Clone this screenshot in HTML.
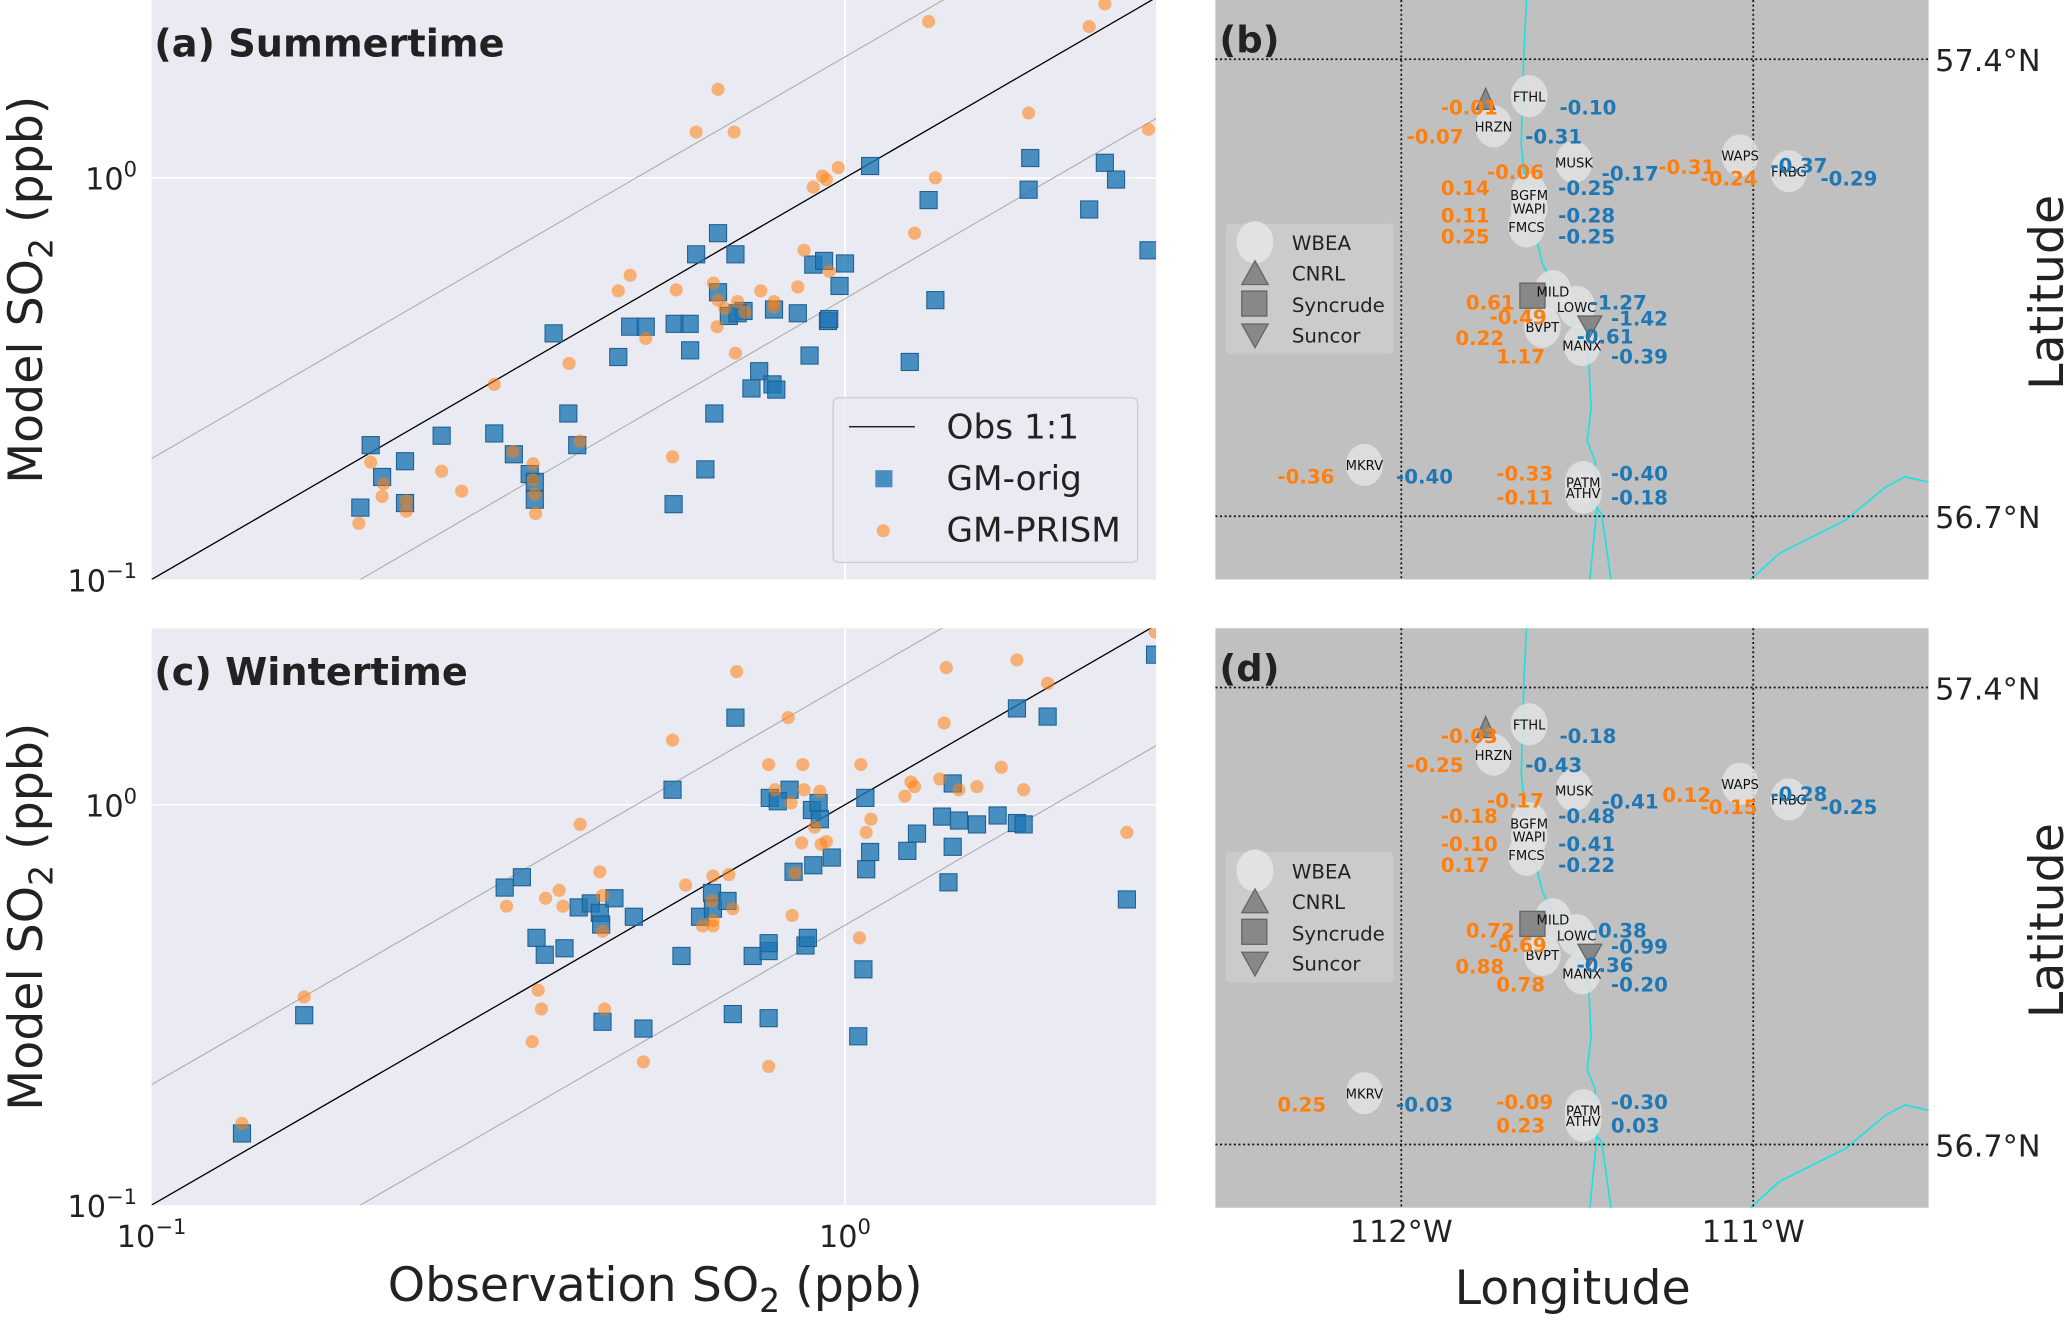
<!DOCTYPE html>
<html><head><meta charset="utf-8"><style>
html,body{margin:0;padding:0;background:#fff;width:2067px;height:1321px;overflow:hidden}
svg{display:block;font-family:"DejaVu Sans","Liberation Sans",sans-serif}
</style></head><body>
<svg id="fig" xmlns="http://www.w3.org/2000/svg" width="2067" height="1321" viewBox="0 0 1568 1003" preserveAspectRatio="none">
<g id="pa"></g>
<g id="pc"></g>
<g id="pb"></g>
<g id="pd"></g>
</svg>
<script>
// ---- Summer data (ppb) ----
const sumOrigObs = [0.207,0.2,0.215,0.232,0.232,0.262,0.312,0.333,0.351,0.357,0.357,0.38,0.399,0.411,0.471,0.49,0.516,0.566,0.568,0.597,0.61,0.598,0.629,0.648,0.656,0.656,0.68,0.695,0.714,0.70,0.733,0.752,0.786,0.796,0.79,0.855,0.889,0.9,0.933,0.945,0.949,0.982,1.0,1.087,1.24,1.32,1.35,1.85,1.84,2.25,2.37,2.46,2.74];
const sumOrigMod = [0.216,0.151,0.18,0.197,0.155,0.228,0.231,0.205,0.183,0.175,0.158,0.41,0.259,0.216,0.358,0.426,0.426,0.154,0.433,0.433,0.645,0.372,0.188,0.259,0.728,0.519,0.453,0.645,0.466,0.46,0.299,0.33,0.306,0.297,0.47,0.46,0.361,0.608,0.621,0.44,0.445,0.538,0.612,1.07,0.348,0.88,0.496,1.12,0.934,0.834,1.09,0.99,0.66];
const sumPrismObs = [0.199,0.207,0.215,0.216,0.233,0.233,0.262,0.28,0.312,0.332,0.355,0.357,0.358,0.355,0.40,0.415,0.471,0.49,0.516,0.564,0.571,0.61,0.646,0.656,0.654,0.656,0.671,0.692,0.70,0.717,0.695,0.756,0.79,0.79,0.855,0.873,0.90,0.928,0.94,0.949,0.978,1.26,1.32,1.35,1.84,2.25,2.37,2.74];
const sumPrismMod = [0.138,0.196,0.161,0.173,0.148,0.157,0.186,0.166,0.306,0.208,0.177,0.163,0.146,0.194,0.345,0.221,0.523,0.572,0.398,0.202,0.526,1.30,0.547,1.66,0.426,0.496,0.473,1.30,0.492,0.463,0.366,0.523,0.492,0.477,0.535,0.66,0.948,1.01,0.99,0.585,1.06,0.728,2.45,1.0,1.45,2.38,2.71,1.32];
// ---- Winter data (ppb) ----
const winOrigObs = [0.135,0.166,0.323,0.342,0.359,0.369,0.394,0.413,0.43,0.443,0.445,0.447,0.465,0.496,0.512,0.564,0.581,0.618,0.643,0.645,0.677,0.695,0.689,0.736,0.776,0.776,0.776,0.779,0.832,0.80,0.843,0.877,0.884,0.90,0.896,0.916,0.92,0.957,1.07,1.063,1.073,1.087,1.045,1.23,1.27,1.38,1.41,1.43,1.43,1.46,1.55,1.66,1.77,1.77,1.81,1.96,2.55,2.80];
const winOrigMod = [0.151,0.298,0.621,0.659,0.465,0.422,0.438,0.554,0.567,0.537,0.502,0.287,0.584,0.525,0.276,1.09,0.419,0.525,0.602,0.55,0.575,1.65,0.30,0.419,0.431,0.293,0.451,1.04,1.09,1.02,0.68,0.445,0.465,0.706,0.97,1.01,0.92,0.738,1.04,0.388,0.69,0.762,0.264,0.767,0.847,0.934,0.64,0.785,1.13,0.913,0.893,0.94,0.90,1.74,0.893,1.66,0.58,2.37];
const winPrismObs = [0.135,0.166,0.325,0.361,0.365,0.354,0.37,0.387,0.392,0.415,0.443,0.447,0.447,0.45,0.512,0.564,0.589,0.623,0.643,0.645,0.645,0.645,0.68,0.698,0.689,0.776,0.776,0.793,0.828,0.836,0.839,0.847,0.869,0.866,0.873,0.904,0.92,0.94,0.924,1.049,1.054,1.073,1.09,1.22,1.245,1.26,1.37,1.39,1.40,1.46,1.55,1.68,1.77,1.81,1.96,2.55,2.80];
const winPrismMod = [0.16,0.331,0.558,0.344,0.309,0.256,0.584,0.611,0.558,0.893,0.68,0.593,0.483,0.309,0.228,1.45,0.63,0.498,0.575,0.664,0.514,0.498,0.669,2.15,0.55,0.222,1.26,1.09,1.65,1.01,0.529,0.675,1.26,0.803,1.09,0.879,1.08,0.809,0.797,0.465,1.26,0.853,0.92,1.05,1.14,1.11,1.16,1.6,2.2,1.09,1.11,1.24,2.30,1.09,2.01,0.853,2.70];
const xTicks = [0.1, 1];
const yTicks = [0.1, 1];

const NS='http://www.w3.org/2000/svg';
function mk(tag, attrs, parent){const e=document.createElementNS(NS,tag);for(const k in attrs)e.setAttribute(k,attrs[k]);parent.appendChild(e);return e;}
const X0=115, X1=877, DX=526;
function xs(v){return 641+Math.log10(v)*DX;}

function scatter(g, top, bot, y1, title, oObs, oMod, pObs, pMod, showLegend, showX){
  const DY=(bot-y1);
  const ys=v=>y1-Math.log10(v)*DY;
  const bg=mk('rect',{x:X0,y:top,width:X1-X0,height:bot-top,fill:'#eaeaf2'},g);
  
  
  const clip=mk('clipPath',{id:'c'+top},g);
  mk('rect',{x:X0,y:top,width:X1-X0,height:bot-top},clip);
  const gl1=mk('line',{x1:xs(1),x2:xs(1),y1:top,y2:bot,stroke:'#fff','stroke-width':1.2},g);
  
  
  const gl2=mk('line',{x1:X0,x2:X1,y1:ys(1),y2:ys(1),stroke:'#fff','stroke-width':1.2},g);
  
  
  const cg=mk('g',{'clip-path':'url(#c'+top+')'},g);
  [[1,'#000',1],[2,'#aaa',0.8],[0.5,'#aaa',0.8]].forEach(([f,c,w])=>{
    const l=mk('line',{x1:xs(0.05),y1:ys(0.05*f),x2:xs(5),y2:ys(5*f),stroke:c,'stroke-width':w},cg);
    
    
  });
  oObs.forEach((v,i)=>{const s=mk('rect',{x:xs(v)-6.5,y:ys(oMod[i])-6.5,width:13,height:13,fill:'#1f77b4','fill-opacity':0.8,stroke:'#1f5f8f','stroke-width':0.8},cg);
    
    });
  pObs.forEach((v,i)=>{const c=mk('circle',{cx:xs(v),cy:ys(pMod[i]),r:5,fill:'#ff7f0e','fill-opacity':0.55},cg);
    
    });
  const t=mk('text',{x:117,y:top+43,'font-size':29,'font-weight':'bold',fill:'#222'},g);t.textContent=title;
  
  
  yTicks.forEach(v=>{const tt=mk('text',{x:104,y:ys(v)+9,'font-size':23,'text-anchor':'end',fill:'#222'},g);
    tt.innerHTML='10<tspan dy="-10" font-size="16">'+(v<1?'−1':'0')+'</tspan>';
    
    });
  if(showX){xTicks.forEach(v=>{const tt=mk('text',{x:xs(v),y:bot+32,'font-size':23,'text-anchor':'middle',fill:'#222'},g);
    tt.innerHTML='10<tspan dy="-10" font-size="16">'+(v<1?'−1':'0')+'</tspan>';
    
    });}
  const yl=mk('text',{x:0,y:0,'font-size':36,'text-anchor':'middle',fill:'#222',transform:'translate(32,'+((top+bot)/2)+') rotate(-90)'},g);
  yl.innerHTML='Model SO<tspan dy="8" font-size="25">2</tspan><tspan dy="-8"> (ppb)</tspan>';
  
  
  if(showLegend){
    const lg=mk('g',{},g);
    
    
    mk('rect',{x:632,y:302,width:231,height:125,rx:4,fill:'#eaeaf2','fill-opacity':0.8,stroke:'#ccc'},lg);
    mk('line',{x1:644,x2:694,y1:324,y2:324,stroke:'#000','stroke-width':1},lg);
    mk('rect',{x:664,y:357,width:13,height:13,fill:'#1f77b4','fill-opacity':0.8},lg);
    mk('circle',{cx:670,cy:403,r:5,fill:'#ff7f0e','fill-opacity':0.55},lg);
    [['Obs 1:1',333],['GM-orig',372],['GM-PRISM',411]].forEach(([s,y])=>{const e=mk('text',{x:718,y:y,'font-size':26,fill:'#222'},lg);e.textContent=s;
      
      });
  }
}
scatter(document.getElementById('pa'),0,440,135,'(a) Summertime',sumOrigObs,sumOrigMod,sumPrismObs,sumPrismMod,true,false);
scatter(document.getElementById('pc'),477,915,611,'(c) Wintertime',winOrigObs,winOrigMod,winPrismObs,winPrismMod,false,true);
const xl=mk('text',{x:497,y:988,'font-size':36,'text-anchor':'middle',fill:'#222'},document.getElementById('fig'));
xl.innerHTML='Observation SO<tspan dy="8" font-size="25">2</tspan><tspan dy="-8"> (ppb)</tspan>';



// ---- Maps ----
const stations=[['FTHL',1160,73],['HRZN',1133,96],['MUSK',1194,123],['WAPS',1320,118],['FRBG',1357,130],['BGFM',1160,148],['WAPI',1160,158],['FMCS',1158,172],['MILD',1178,221],['LOWC',1196,233],['BVPT',1170,248],['MANX',1200,262],['MKRV',1035,353],['PATM',1201,366],['ATHV',1201,374]];
const valsB=[['-0.01',1093,87,'o'],['-0.07',1067,109,'o'],['-0.06',1128,136,'o'],['0.14',1093,148,'o'],['0.11',1093,169,'o'],['0.25',1093,185,'o'],['-0.31',1258,132,'o'],['-0.24',1290,141,'o'],['0.61',1112,235,'o'],['-0.49',1130,246,'o'],['0.22',1104,262,'o'],['1.17',1135,276,'o'],['-0.36',969,367,'o'],['-0.33',1135,365,'o'],['-0.11',1135,383,'o'],
 ['-0.10',1183,87,'b'],['-0.31',1157,109,'b'],['-0.17',1215,137,'b'],['-0.25',1182,148,'b'],['-0.28',1182,169,'b'],['-0.25',1182,185,'b'],['-0.37',1343,131,'b'],['-0.29',1381,141,'b'],['-1.27',1206,235,'b'],['-1.42',1222,247,'b'],['-0.61',1196,261,'b'],['-0.39',1222,276,'b'],['-0.40',1059,367,'b'],['-0.40',1222,365,'b'],['-0.18',1222,383,'b']];
const valsD=[['-0.03',1093,87,'o'],['-0.25',1067,109,'o'],['-0.17',1128,136,'o'],['-0.18',1093,148,'o'],['-0.10',1093,169,'o'],['0.17',1093,185,'o'],['0.12',1261,132,'o'],['-0.15',1290,141,'o'],['0.72',1112,235,'o'],['-0.69',1130,246,'o'],['0.88',1104,262,'o'],['0.78',1135,276,'o'],['0.25',969,367,'o'],['-0.09',1135,365,'o'],['0.23',1135,383,'o'],
 ['-0.18',1183,87,'b'],['-0.43',1157,109,'b'],['-0.41',1215,137,'b'],['-0.48',1182,148,'b'],['-0.41',1182,169,'b'],['-0.22',1182,185,'b'],['-0.28',1343,131,'b'],['-0.25',1381,141,'b'],['-0.38',1206,235,'b'],['-0.99',1222,247,'b'],['-0.36',1196,261,'b'],['-0.20',1222,276,'b'],['-0.03',1059,367,'b'],['-0.30',1222,365,'b'],['0.03',1222,383,'b']];
function map(g,off,label,vals,showLon){
  const r=mk('rect',{x:922,y:off,width:541,height:440,fill:'#c0c0c0'},g);
  
  
  const rv=mk('path',{d:'M1158 '+off+' L1156 '+(off+40)+' L1154 '+(off+110)+' L1158 '+(off+150)+' L1170 '+(off+200)+' L1190 '+(off+240)+' L1205 '+(off+270)+' L1207 '+(off+310)+' L1204 '+(off+335)+' L1210 '+(off+350)+' L1212 '+(off+380)+' L1210 '+(off+400)+' L1206 '+(off+440)+' M1200 '+(off+372)+' L1215 '+(off+390)+' L1222 '+(off+440)+' M1328 '+(off+440)+' L1350 '+(off+420)+' L1400 '+(off+395)+' L1430 '+(off+370)+' L1445 '+(off+362)+' L1463 '+(off+366),fill:'none',stroke:'#22e0e0','stroke-width':1.3},g);
  
  
  [[1063,off,1063,off+440],[1330,off,1330,off+440],[922,off+45,1463,off+45],[922,off+392,1463,off+392]].forEach(a=>{
    const l=mk('line',{x1:a[0],y1:a[1],x2:a[2],y2:a[3],stroke:'#111','stroke-width':1.3,'stroke-dasharray':'1.5,2'},g);
    
    });
  const lg=mk('g',{},g);
  
  
  mk('rect',{x:930,y:off+170,width:127,height:99,rx:3,fill:'#d0d0d0','fill-opacity':0.7},lg);
  mk('ellipse',{cx:952,cy:off+184,rx:14,ry:16,fill:'#e2e2e2'},lg);
  mk('path',{d:'M952 '+(off+198)+' L942 '+(off+216)+' L962 '+(off+216)+' Z',fill:'#888',stroke:'#666'},lg);
  mk('rect',{x:942,y:off+221,width:19,height:19,fill:'#888',stroke:'#666'},lg);
  mk('path',{d:'M942 '+(off+246)+' L962 '+(off+246)+' L952 '+(off+264)+' Z',fill:'#888',stroke:'#666'},lg);
  [['WBEA',190],['CNRL',213],['Syncrude',237],['Suncor',260]].forEach(([s,y])=>{const t=mk('text',{x:980,y:off+y,'font-size':15,fill:'#222'},lg);t.textContent=s;
    
    });
  stations.forEach(([n,x,y])=>{const e=mk('ellipse',{cx:x,cy:off+y,rx:14,ry:16,fill:'#e2e2e2','fill-opacity':0.85},g);
    
    });
  const m1=mk('path',{d:'M1127 '+(off+67)+' L1120 '+(off+83)+' L1134 '+(off+83)+' Z',fill:'#888',stroke:'#666'},g);
  
  
  const m2=mk('rect',{x:1153,y:off+215,width:19,height:19,fill:'#888',stroke:'#666'},g);
  
  
  const m3=mk('path',{d:'M1197 '+(off+240)+' L1215 '+(off+240)+' L1206 '+(off+256)+' Z',fill:'#888',stroke:'#666'},g);
  
  
  stations.forEach(([n,x,y])=>{const t=mk('text',{x:x,y:off+y+4,'font-size':10,'text-anchor':'middle',fill:'#111'},g);t.textContent=n;
    
    });
  vals.forEach(([s,x,y,c])=>{const t=mk('text',{x:x,y:off+y,'font-size':15,'font-weight':'bold',fill:c==='o'?'#ff7f0e':'#1f77b4'},g);t.textContent=s;
    
    });
  const tl=mk('text',{x:925,y:off+40,'font-size':28,'font-weight':'bold',fill:'#222'},g);tl.textContent=label;
  
  
  [['57.4°N',45],['56.7°N',392]].forEach(([s,y])=>{const t=mk('text',{x:1468,y:off+y+9,'font-size':23,fill:'#222'},g);t.textContent=s;
    
    });
  const la=mk('text',{x:0,y:0,'font-size':36,'text-anchor':'middle',fill:'#222',transform:'translate(1565,'+(off+222)+') rotate(-90)'},g);la.textContent='Latitude';
  
  
  if(showLon){
    [['112°W',1063],['111°W',1330]].forEach(([s,x])=>{const t=mk('text',{x:x,y:off+466,'font-size':23,'text-anchor':'middle',fill:'#222'},g);t.textContent=s;
      
      });
    const lo=mk('text',{x:1193,y:off+513,'font-size':36,'text-anchor':'middle',fill:'#222'},g);lo.textContent='Longitude';
    
    
  }
}
map(document.getElementById('pb'),0,'(b)',valsB,false);
map(document.getElementById('pd'),477,'(d)',valsD,true);
</script>
</body></html>
